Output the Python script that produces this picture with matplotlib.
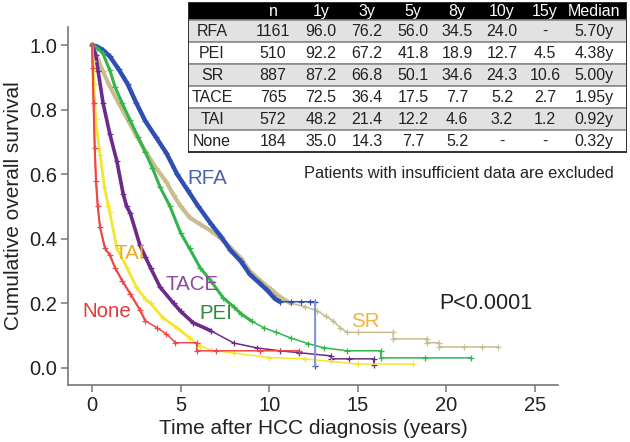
import numpy as np
import matplotlib
matplotlib.use('Agg')
import matplotlib.pyplot as plt
from matplotlib.patches import Rectangle

plt.rcParams['font.family'] = ['Liberation Sans', 'DejaVu Sans']

# ---- Kaplan-Meier curves (years, survival) ----
rfa_t = [0, 0.3, 0.6, 1.0, 1.5, 2.0, 2.5, 3.0, 3.6, 4.2, 4.8, 5.4, 6.0, 6.7, 7.3,
         7.8, 8.4, 8.9, 9.4, 9.9, 10.3, 10.6, 11.2, 11.8, 12.3, 12.6, 12.6]
rfa_s = [1.0, 0.995, 0.985, 0.965, 0.925, 0.88, 0.82, 0.765, 0.715, 0.665, 0.6,
         0.55, 0.5, 0.447, 0.405, 0.365, 0.33, 0.29, 0.265, 0.24, 0.215, 0.205,
         0.205, 0.205, 0.205, 0.205, 0.005]

sr_t = [0, 0.3, 0.6, 1.0, 1.5, 2.0, 2.5, 3.0, 3.6, 4.2, 4.6, 5.0, 5.5, 6.1, 6.7, 7.3,
        7.8, 8.4, 8.9, 9.5, 10.1, 10.6, 11.2, 12.0, 12.7, 13.2, 13.6, 14.0, 14.4,
        15.0, 17.0, 17.0, 18.9, 18.9, 19.6, 19.6, 21.0, 22.0, 22.9]
sr_s = [1.0, 0.96, 0.92, 0.872, 0.82, 0.77, 0.72, 0.672, 0.62, 0.575, 0.535, 0.501,
        0.466, 0.445, 0.425, 0.40, 0.373, 0.34, 0.30, 0.27, 0.243, 0.22, 0.20, 0.19,
        0.177, 0.16, 0.146, 0.125, 0.11, 0.11, 0.11, 0.09, 0.09, 0.078, 0.078, 0.065,
        0.065, 0.065, 0.065]

pei_t = [0, 0.3, 0.6, 1.0, 1.3, 1.7, 2.15, 2.6, 3.0, 3.4, 3.84, 4.4, 5.0, 5.5, 6.1,
         6.7, 7.4, 8.0, 8.4, 9.0, 9.7, 10.4, 11.2, 12.2, 13.1, 14.4, 16.3, 16.3,
         18.8, 21.4]
pei_s = [1.0, 0.99, 0.975, 0.922, 0.87, 0.82, 0.767, 0.715, 0.668, 0.62, 0.56, 0.5,
         0.418, 0.37, 0.31, 0.27, 0.217, 0.189, 0.168, 0.145, 0.124, 0.11, 0.093,
         0.075, 0.062, 0.053, 0.053, 0.031, 0.031, 0.031]

tace_t = [0, 0.2, 0.34, 0.62, 1.0, 1.4, 1.75, 1.95, 2.15, 2.7, 3.0, 3.3, 3.84, 4.6,
          5.0, 5.7, 6.7, 8.0, 9.3, 10.6, 11.7, 13.5, 13.5, 14.5, 15.9, 15.9]
tace_s = [1.0, 0.97, 0.92, 0.82, 0.725, 0.64, 0.54, 0.5, 0.48, 0.38, 0.345, 0.31,
          0.25, 0.2, 0.175, 0.14, 0.115, 0.077, 0.062, 0.053, 0.047, 0.037, 0.028,
          0.028, 0.028, 0.008]

tai_t = [0, 0.05, 0.1, 0.2, 0.45, 0.7, 0.92, 1.0, 1.4, 1.97, 2.5, 3.0, 3.3, 4.0, 4.8,
         5.5, 6.1, 6.7, 8.0, 10.0, 12.0, 13.5, 15.0, 18.1]
tai_s = [1.0, 0.95, 0.88, 0.77, 0.66, 0.56, 0.5, 0.482, 0.37, 0.31, 0.25, 0.214, 0.2,
         0.155, 0.124, 0.093, 0.068, 0.055, 0.046, 0.032, 0.028, 0.02, 0.012, 0.012]

none_t = [0, 0.03, 0.08, 0.15, 0.22, 0.32, 0.45, 0.73, 1.0, 1.3, 1.7, 2.15, 2.7, 3.0,
          3.67, 4.2, 4.7, 5.9, 5.9, 7.0, 9.5, 11.7]
none_s = [1.0, 0.93, 0.82, 0.68, 0.58, 0.5, 0.435, 0.37, 0.35, 0.31, 0.27, 0.23, 0.18,
          0.146, 0.124, 0.105, 0.078, 0.078, 0.053, 0.053, 0.053, 0.053]

# ---- table ----
tab_header = ['', 'n', '1y', '3y', '5y', '8y', '10y', '15y', 'Median']
tab_groups = ['RFA', 'PEI', 'SR', 'TACE', 'TAI', 'None']
tab_n = ['1161', '510', '887', '765', '572', '184']
tab_1y = ['96.0', '92.2', '87.2', '72.5', '48.2', '35.0']
tab_3y = ['76.2', '67.2', '66.8', '36.4', '21.4', '14.3']
tab_5y = ['56.0', '41.8', '50.1', '17.5', '12.2', '7.7']
tab_8y = ['34.5', '18.9', '34.6', '7.7', '4.6', '5.2']
tab_10y = ['24.0', '12.7', '24.3', '5.2', '3.2', '-']
tab_15y = ['-', '4.5', '10.6', '2.7', '1.2', '-']
tab_med = ['5.70y', '4.38y', '5.00y', '1.95y', '0.92y', '0.32y']

# ---- styles: (t, s, colour, thick lw, heavy-censoring until) ----
curves = [
    (sr_t, sr_s, '#c9bc8e', 3.0, 11.2),
    (rfa_t, rfa_s, '#2f4fb2', 3.2, 10.6),
    (pei_t, pei_s, '#33b54c', 2.2, 9.0),
    (tace_t, tace_s, '#6c2a8c', 2.6, 6.7),
    (tai_t, tai_s, '#f4e630', 2.0, 5.5),
    (none_t, none_s, '#ee4848', 1.5, 3.0),
]

fig = plt.figure(figsize=(6.3, 4.42), dpi=100)
ax = fig.add_axes([68/630, 1-385/442, 490/630, 358/442])

for t, s, col, lw, cut in curves:
    t = np.array(t)
    s = np.array(s)
    n = np.searchsorted(t, cut, side='right')
    ax.plot(t, s, color=col, lw=1.1, marker='+', ms=4.5, mew=0.9)
    ax.plot(t[:n], s[:n], color=col, lw=lw, solid_capstyle='round')

# the last RFA drop is drawn in a lighter blue
ax.plot(rfa_t[-2:], rfa_s[-2:], color='#8a9ad8', lw=1.3)

ax.set_xlim(-1.36, 26.3)
ax.set_ylim(-0.053, 1.056)
ax.set_xticks([0, 5, 10, 15, 20, 25])
ax.set_yticks([0.0, 0.2, 0.4, 0.6, 0.8, 1.0])
ax.set_yticklabels(['0.0', '0.2', '0.4', '0.6', '0.8', '1.0'])
for side in ['top', 'right']:
    ax.spines[side].set_visible(False)
for side in ['left', 'bottom']:
    ax.spines[side].set_color('#777777')
    ax.spines[side].set_linewidth(1.2)
ax.tick_params(direction='out', length=5, width=1.1, color='#777777',
               labelsize=14.5, labelcolor='#222222', pad=3)
ax.set_xlabel('Time after HCC diagnosis (years)', fontsize=15, color='#222222', labelpad=3)
ax.set_ylabel('Cumulative overall survival', fontsize=15, color='#222222', labelpad=4)

# curve labels
lab_fs = 14.8
ax.text(6.5, 0.587, 'RFA', color='#4a62b6', fontsize=lab_fs, ha='center', va='center')
ax.text(2.15, 0.354, 'TAI', color='#f2aa1e', fontsize=lab_fs, ha='center', va='center')
ax.text(5.65, 0.258, 'TACE', color='#8c4ca2', fontsize=lab_fs, ha='center', va='center')
ax.text(7.0, 0.168, 'PEI', color='#2e8b40', fontsize=lab_fs, ha='center', va='center')
ax.text(0.8, 0.174, 'None', color='#e23a3a', fontsize=lab_fs, ha='center', va='center')
ax.text(15.4, 0.143, 'SR', color='#f2b43c', fontsize=lab_fs, ha='center', va='center')
ax.text(22.2, 0.2, 'P<0.0001', color='#222222', fontsize=15.5, ha='center', va='center')
ax.text(20.7, 0.602, 'Patients with insufficient data are excluded', color='#222222',
        fontsize=11.8, ha='center', va='center')

# table drawn in pixel-like coordinates of its own axes
tx = fig.add_axes([188/630, 1-153/442, 439/630, 151/442])
tx.set_xlim(188, 627)
tx.set_ylim(153, 2)
tx.axis('off')
col_x = [212, 273, 321, 367, 413, 457, 502, 545, 594]
tx.add_patch(Rectangle((188, 2), 439, 18, facecolor='black', edgecolor='black'))
for j, h in enumerate(tab_header):
    tx.text(col_x[j], 11.5, h, color='white', fontsize=11.5, ha='center', va='center')
cols = [tab_groups, tab_n, tab_1y, tab_3y, tab_5y, tab_8y, tab_10y, tab_15y, tab_med]
row_h = 22
for i in range(len(tab_groups)):
    y0 = 20 + i * row_h
    face = '#e2e2e2' if i % 2 == 0 else 'white'
    tx.add_patch(Rectangle((188, y0), 439, row_h, facecolor=face,
                           edgecolor='#8a8a8a', lw=1.2))
    for j, c in enumerate(cols):
        tx.text(col_x[j], y0 + row_h/2 + 0.5, c[i], color='#222222', fontsize=11.5,
                ha='center', va='center')
tx.add_patch(Rectangle((188, 2), 439, 20 + 6*row_h - 2, facecolor='none',
                       edgecolor='#333333', lw=1.4))

plt.savefig('out.png', dpi=100)
